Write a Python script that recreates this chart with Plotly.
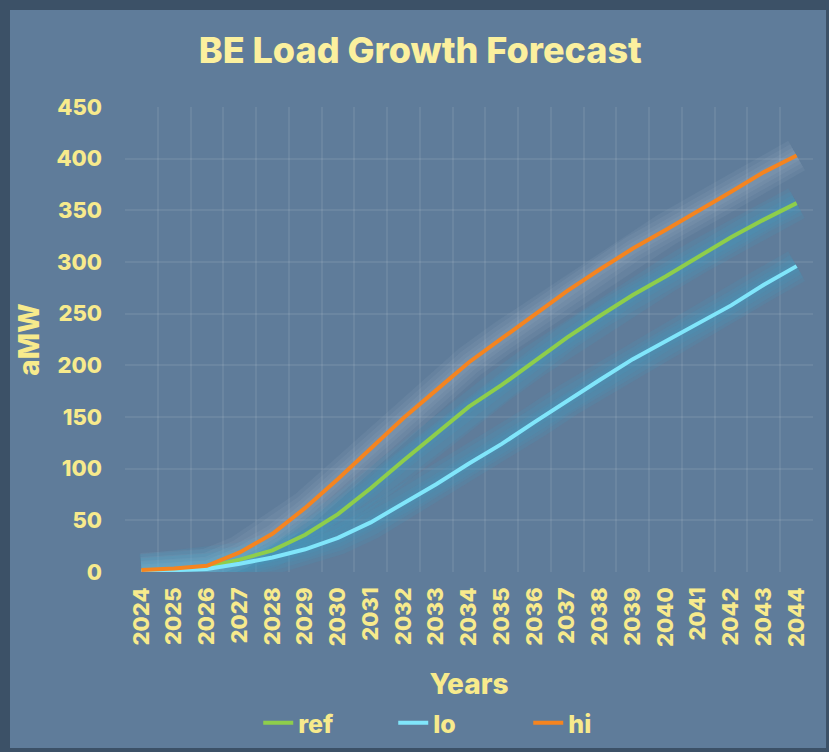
import plotly.graph_objects as go

years = list(range(2024, 2045))
hi = [2, 3.5, 6, 19, 37, 62, 90, 120, 149, 176, 203, 226, 249, 272, 293, 313, 331, 349, 368, 387, 403]
ref = [1, 2.5, 5, 12, 21, 36, 56, 81, 108, 134, 160, 181, 204, 227, 248, 268, 286, 305, 324, 341, 357]
lo = [0.5, 1.5, 3, 8, 14, 22, 33, 48, 66, 85, 105, 124, 145, 166, 186, 206, 223, 240, 258, 278, 296]
y_ticks = list(range(0, 451, 50))

YEL = "#f7ea8c"
FONT = "Inter"
WT = 800

series = [
    ("ref", ref, "#8ece4b", "rgba(60,160,200,0.13)"),
    ("lo", lo, "#80e6fb", "rgba(60,160,200,0.13)"),
    ("hi", hi, "#f5841f", "rgba(200,215,230,0.07)"),
]

fig = go.Figure()
# soft glow layers beneath each line
for name, vals, col, glow in series:
    for w in (34, 26, 18, 11):
        fig.add_trace(go.Scatter(x=years, y=vals, mode="lines", showlegend=False,
                                 hoverinfo="skip", line=dict(color=glow, width=w)))
for name, vals, col, glow in series:
    fig.add_trace(go.Scatter(x=years, y=vals, mode="lines", name=name,
                             line=dict(color=col, width=4)))

grid = "rgba(255,255,255,0.08)"
W, H = 829, 752
L, R, T, B = 125, 16, 107, 180
pw, ph = W - L - R, H - T - B

fig.update_layout(
    width=W, height=H,
    margin=dict(l=L, r=R, t=T, b=B, autoexpand=False),
    paper_bgcolor="#3c5167",
    plot_bgcolor="rgba(0,0,0,0)",
    font=dict(family=FONT, color=YEL, size=22, weight=WT),
    title=dict(text="BE Load Growth Forecast", x=0.507, xanchor="center", xref="container",
               y=1 - 50 / H, yanchor="middle",
               font=dict(family=FONT, size=36, color="#fbf09e", weight=WT)),
    xaxis=dict(range=[years[0] - 0.5, years[-1] + 0.5], tickvals=years,
               ticktext=[str(y) for y in years], tickangle=-90, showgrid=False,
               zeroline=False, showline=False, ticks="", ticklen=0, ticklabelstandoff=10,
               tickfont=dict(size=22, family=FONT, color=YEL, weight=WT),
               minor=dict(tickvals=[y - 0.5 for y in years] + [years[-1] + 0.5],
                          showgrid=True, gridcolor=grid, gridwidth=2, ticks=""),
               title=dict(text="Years", standoff=28,
                          font=dict(size=28, family=FONT, color=YEL, weight=WT))),
    yaxis=dict(range=[0, 450], tickvals=y_ticks, showgrid=True, gridcolor=grid, gridwidth=2,
               zeroline=False, showline=False, ticks="", ticklen=0, ticklabelstandoff=22,
               tickfont=dict(size=22, family=FONT, color=YEL, weight=WT),
               title=dict(text="aMW", standoff=8,
                          font=dict(size=28, family=FONT, color=YEL, weight=WT))),
    legend=dict(orientation="h", x=0.488, xanchor="center", y=-(723 - (T + ph)) / ph,
                yanchor="middle", bgcolor="rgba(0,0,0,0)",
                font=dict(size=25, family=FONT, color=YEL, weight=WT),
                entrywidth=90, entrywidthmode="pixels", traceorder="normal"),
    shapes=[dict(type="rect", xref="paper", yref="paper", layer="below",
                 x0=(10 - L) / pw, x1=(826 - L) / pw,
                 y0=-(748 - (T + ph)) / ph, y1=(T + ph - 10) / ph,
                 fillcolor="#5f7c9a", line=dict(width=0))],
)

fig.write_html("out.html")
